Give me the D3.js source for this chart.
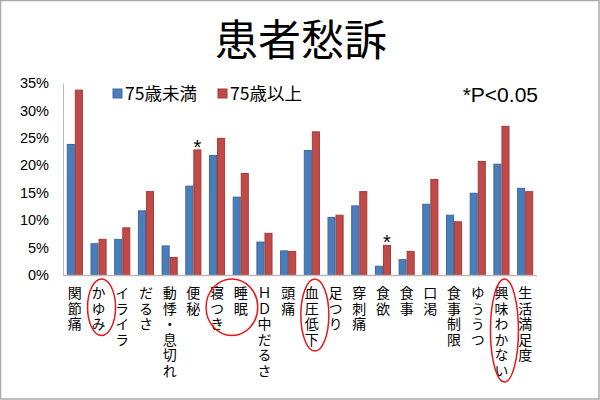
<!DOCTYPE html>
<html>
<head>
<meta charset="utf-8">
<script src="https://cdn.jsdelivr.net/npm/d3@7"></script>
<style>
  body { margin: 0; background: #fff; }
  svg { display: block; }
</style>
</head>
<body>
<svg id="chart" width="600" height="400"></svg>
<script>
// chart data
const categories = ['関節痛', 'かゆみ', 'イライラ', 'だるさ', '動悸・息切れ', '便秘', '寝つき', '睡眠',
  'ＨＤ中だるさ', '頭痛', '血圧低下', '足つり', '穿刺痛', '食欲', '食事', '口渇', '食事制限',
  'ゆううつ', '興味わかない', '生活満足度'];
const under75 = [23.8, 5.7, 6.5, 11.7, 5.3, 16.2, 21.8, 14.2, 6.0, 4.4, 22.7, 10.5, 12.6, 1.6, 2.8, 12.9, 10.9, 14.9, 20.2, 15.8];
const over75 = [33.7, 6.5, 8.6, 15.2, 3.2, 22.8, 24.9, 18.5, 7.6, 4.3, 26.1, 10.9, 15.2, 5.4, 4.3, 17.4, 9.7, 20.7, 27.1, 15.2];
const seriesNames = ['75歳未満', '75歳以上'];
const yTicks = [0, 5, 10, 15, 20, 25, 30, 35];
const significant = ['便秘', '食欲'];
// circled labels: [first category, last category]
const circled = [['かゆみ', 'かゆみ'], ['寝つき', '睡眠'], ['血圧低下', '血圧低下'], ['興味わかない', '興味わかない']];

const width = 600;
const height = 400;
const colors = ['#4a7ebb', '#be4b48'];
const strokes = ['#3b6aa3', '#a53c39'];
const jpFont = '"Noto Sans CJK JP", sans-serif';
const latin = 'Arial, "Liberation Sans", sans-serif';

const svg = d3.select('#chart');

// frame
svg.append('rect')
  .attr('x', 0.5).attr('y', 0.5)
  .attr('width', width - 1.5).attr('height', height - 1.5)
  .attr('fill', 'none')
  .attr('stroke', '#aaa')
  .attr('stroke-width', 1.5);

// title
svg.append('text')
  .text('患者愁訴')
  .attr('x', 301).attr('y', 56)
  .attr('text-anchor', 'middle')
  .attr('font-family', jpFont)
  .attr('font-size', 43)
  .attr('fill', '#000');

const x = d3.scaleBand()
  .domain(categories)
  .range([63, 537])
  .paddingInner(0.32)
  .paddingOuter(0.16);

const xSub = d3.scaleBand()
  .domain([0, 1])
  .range([0, x.bandwidth()]);

const y = d3.scaleLinear()
  .domain([0, 35])
  .range([275, 83]);

// y axis
const yAxis = svg.append('g')
  .attr('transform', 'translate(63,0)')
  .call(d3.axisLeft(y).tickValues(yTicks).tickSize(0).tickPadding(14).tickFormat(d => d + '%'));
yAxis.select('.domain').attr('stroke', '#bbb');
yAxis.selectAll('text')
  .attr('font-family', latin)
  .attr('font-size', 14.5)
  .attr('fill', '#000');

// bars
const rows = categories.map((c, i) => ({ cat: c, vals: [under75[i], over75[i]] }));

const groups = svg.append('g')
  .selectAll('g')
  .data(rows)
  .join('g')
  .attr('transform', d => `translate(${x(d.cat)},0)`);

groups.selectAll('rect')
  .data(d => d.vals.map((v, k) => ({ v, k })))
  .join('rect')
  .attr('x', d => xSub(d.k) + 0.5)
  .attr('y', d => y(d.v))
  .attr('width', xSub.bandwidth() - 1)
  .attr('height', d => y(0) - y(d.v))
  .attr('fill', d => colors[d.k])
  .attr('stroke', d => strokes[d.k])
  .attr('stroke-width', 1);

// x axis line
svg.append('line')
  .attr('x1', 63).attr('x2', 537)
  .attr('y1', y(0) + 0.5).attr('y2', y(0) + 0.5)
  .attr('stroke', '#bbb')
  .attr('stroke-width', 1.5);

// significance marks
svg.append('g')
  .selectAll('text')
  .data(significant)
  .join('text')
  .text('*')
  .attr('x', d => x(d) + xSub(1) + xSub.bandwidth() / 2)
  .attr('y', d => y(over75[categories.indexOf(d)]) + 4)
  .attr('text-anchor', 'middle')
  .attr('font-family', latin)
  .attr('font-size', 20)
  .attr('fill', '#000');

// vertical category labels
const charStep = 15.5;
const labelTop = 286;
svg.append('g')
  .selectAll('text')
  .data(categories)
  .join('text')
  .text(d => d)
  .attr('x', d => x(d) + x.bandwidth() / 2)
  .attr('y', labelTop)
  .attr('font-family', jpFont)
  .attr('font-size', 14)
  .attr('fill', '#000')
  .style('writing-mode', 'vertical-rl')
  .style('text-orientation', 'upright')
  .style('letter-spacing', (charStep - 14) + 'px');

// red circles round highlighted labels
svg.append('g')
  .selectAll('ellipse')
  .data(circled)
  .join('ellipse')
  .attr('cx', d => (x(d[0]) + x(d[1]) + x.bandwidth()) / 2 + 3)
  .attr('cy', d => {
    const n = d3.max(d, c => Array.from(c).length);
    return 279 + (n * charStep + 10) / 2;
  })
  .attr('rx', d => (x(d[1]) - x(d[0])) / 2 + 14)
  .attr('ry', d => {
    const n = d3.max(d, c => Array.from(c).length);
    return (n * charStep + 10) / 2;
  })
  .attr('fill', 'none')
  .attr('stroke', '#e8151b')
  .attr('stroke-width', 1.5);

// legend
const legend = svg.append('g')
  .selectAll('g')
  .data(seriesNames)
  .join('g')
  .attr('transform', (d, i) => `translate(${113 + i * 105},89)`);

legend.append('rect')
  .attr('width', 9).attr('height', 9)
  .attr('fill', (d, i) => colors[i])
  .attr('stroke', (d, i) => strokes[i]);

legend.append('text')
  .text(d => d)
  .attr('x', 12).attr('y', 11)
  .attr('font-family', jpFont)
  .attr('font-size', 17.5)
  .attr('fill', '#000');

svg.append('text')
  .text('*P<0.05')
  .attr('x', 538).attr('y', 102)
  .attr('text-anchor', 'end')
  .attr('font-family', latin)
  .attr('font-size', 21)
  .attr('fill', '#000');
</script>
</body>
</html>
